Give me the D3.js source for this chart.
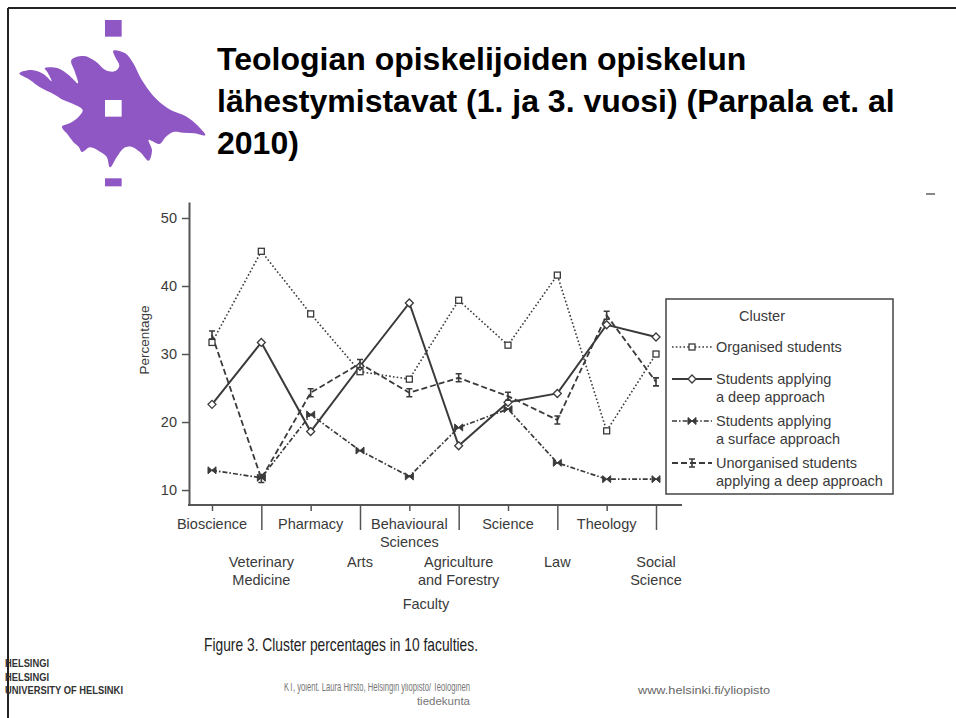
<!DOCTYPE html>
<html>
<head>
<meta charset="utf-8">
<script src="https://cdn.jsdelivr.net/npm/d3@7"></script>
<style>
  body { margin: 0; background: #fff; }
  svg { display: block; }
  text { font-family: "Liberation Sans", Arial, sans-serif; }
</style>
</head>
<body>
<svg id="chart" width="956" height="718"></svg>
<script>
// faculties in plotting order, and how their labels wrap
var faculties = ["Bioscience", "Veterinary Medicine", "Pharmacy", "Arts", "Behavioural Sciences",
                 "Agriculture and Forestry", "Science", "Law", "Theology", "Social Science"];
var facultyLabels = [["Bioscience"], ["Veterinary", "Medicine"], ["Pharmacy"], ["Arts"], ["Behavioural", "Sciences"],
                     ["Agriculture", "and Forestry"], ["Science"], ["Law"], ["Theology"], ["Social", "Science"]];

// cluster percentages
var organised   = [31.7, 45.1, 35.9, 27.4, 26.3, 37.9, 31.3, 41.6, 18.7, 30.0];
var deep        = [22.6, 31.7, 18.6, 28.2, 37.5, 16.5, 22.9, 24.2, 34.3, 32.5];
var surface     = [12.9, 11.8, 21.1, 15.8, 12.0, 19.2, 21.9, 14.0, 11.6, 11.6];
var unorganised = [32.8, 11.7, 24.3, 28.6, 24.3, 26.5, 23.8, 20.3, 35.7, 25.9];

var yTicks = [10, 20, 30, 40, 50];
var titleLines = ["Teologian opiskelijoiden opiskelun", "lähestymistavat (1. ja 3. vuosi) (Parpala et. al", "2010)"];

var svg = d3.select("#chart");
var ink = "#3a3a3a";

// ---- slide frame + logo
svg.append("line").attr("x1", 8).attr("y1", 8).attr("x2", 956).attr("y2", 8)
    .attr("stroke", "#222").attr("stroke-width", 2);
svg.append("line").attr("x1", 8).attr("y1", 8).attr("x2", 8).attr("y2", 718)
    .attr("stroke", "#222").attr("stroke-width", 2);

var purple = "#8f57c4";
var flame = [[58,220],[95,210],[130,222],[155,244],[142,216],[134,205],[172,204],[205,224],[234,250],
             [224,214],[214,180],[252,168],[286,184],[316,210],[344,214],[358,198],[346,172],[340,152],
             [376,160],[400,190],[420,230],[446,270],[472,300],[512,330],[560,350],[592,376],[616,406],
             [584,400],[550,398],[520,396],[498,410],[478,432],[446,420],[456,450],[446,482],[420,456],
             [394,440],[372,444],[350,472],[330,502],[320,470],[300,455],[270,442],[246,456],[236,440],
             [222,428],[202,402],[186,380],[212,368],[236,350],[248,330],[220,312],[190,300],[160,282],
             [120,262],[90,240]];
var logo = svg.append("g").attr("transform", "scale(0.3333)");
logo.append("path")
    .attr("d", d3.line().curve(d3.curveCatmullRomClosed.alpha(0.5))(flame))
    .attr("fill", purple);
logo.append("rect").attr("x", 315).attr("y", 60).attr("width", 50).attr("height", 50).attr("fill", purple);
logo.append("rect").attr("x", 315).attr("y", 300).attr("width", 50).attr("height", 50).attr("fill", "#fff");
logo.append("rect").attr("x", 315).attr("y", 535).attr("width", 50).attr("height", 24).attr("fill", purple);

// ---- title
svg.append("g").selectAll("text").data(titleLines).enter().append("text")
    .attr("x", 217).attr("y", (d, i) => 70 + i * 42)
    .attr("font-size", 32).attr("font-weight", "bold").attr("fill", "#000")
    .text(d => d);

svg.append("line").attr("x1", 926).attr("x2", 935).attr("y1", 194).attr("y2", 194)
    .attr("stroke", "#888").attr("stroke-width", 2);

// ---- scales
var x = d3.scalePoint().domain(faculties).range([212, 656]);
var y = d3.scaleLinear().domain([7.8, 52.35]).range([505, 202]);
var fs = 14.5;

// y axis
var yAxis = svg.append("g").attr("transform", "translate(189,0)")
    .call(d3.axisLeft(y).tickValues(yTicks).tickSize(7).tickPadding(5).tickSizeOuter(0));
yAxis.select(".domain").attr("stroke", "#555").attr("stroke-width", 2);
yAxis.selectAll(".tick line").attr("stroke", "#555").attr("stroke-width", 1.5);
yAxis.selectAll(".tick text").attr("font-size", fs).attr("fill", ink)
    .attr("font-family", "Liberation Sans, Arial, sans-serif");

svg.append("text").attr("transform", "translate(149,340) rotate(-90)")
    .attr("text-anchor", "middle").attr("font-size", 13.5).attr("fill", ink).text("Percentage");

// x axis
svg.append("line").attr("x1", 188).attr("x2", 682).attr("y1", 505).attr("y2", 505)
    .attr("stroke", "#555").attr("stroke-width", 2);
var xAxis = svg.append("g").attr("transform", "translate(0,505)")
    .call(d3.axisBottom(x).tickSize(6).tickFormat(""));
xAxis.select(".domain").remove();
xAxis.selectAll(".tick line").attr("stroke", "#555").attr("stroke-width", 1.5)
    .attr("y2", (d, i) => i % 2 ? 25 : 6);

var labels = svg.append("g").selectAll("text").data(faculties).enter().append("text")
    .attr("text-anchor", "middle").attr("font-size", fs).attr("fill", ink)
    .attr("transform", (d, i) => "translate(" + x(d) + "," + (i % 2 ? 567 : 529) + ")");
labels.selectAll("tspan").data((d, i) => facultyLabels[i]).enter().append("tspan")
    .attr("x", 0).attr("dy", (d, j) => j ? 18 : 0).text(d => d);

svg.append("text").attr("x", 426).attr("y", 609).attr("text-anchor", "middle")
    .attr("font-size", fs).attr("fill", ink).text("Faculty");

// ---- series
var series = [
    {name: ["Organised students"], values: organised, dash: "1.6,2.2", width: 1.6, marker: "square"},
    {name: ["Students applying", "a deep approach"], values: deep, dash: null, width: 2, marker: "diamond"},
    {name: ["Students applying", "a surface approach"], values: surface, dash: "5,2,1.6,2", width: 1.7, marker: "bowtie"},
    {name: ["Unorganised students", "applying a deep approach"], values: unorganised, dash: "6,3", width: 1.8, marker: "ibeam"}
];

function drawMarker(g, type, cx, cy) {
    if (type == "square") {
        g.append("rect").attr("x", cx - 3).attr("y", cy - 3).attr("width", 6).attr("height", 6)
            .attr("fill", "#fff").attr("stroke", ink).attr("stroke-width", 1.3);
    } else if (type == "diamond") {
        g.append("path").attr("d", "M0,-4L4,0L0,4L-4,0Z")
            .attr("transform", "translate(" + cx + "," + cy + ")")
            .attr("fill", "#fff").attr("stroke", ink).attr("stroke-width", 1.3);
    } else if (type == "bowtie") {
        g.append("path").attr("d", "M-4,-3.5L4,3.5L4,-3.5L-4,3.5Z")
            .attr("transform", "translate(" + cx + "," + cy + ")")
            .attr("fill", ink).attr("stroke", ink).attr("stroke-width", 1);
    } else {
        g.append("path").attr("d", "M-3,-4H3M0,-4V4M-3,4H3")
            .attr("transform", "translate(" + cx + "," + cy + ")")
            .attr("fill", "none").attr("stroke", ink).attr("stroke-width", 1.6);
    }
}

var line = d3.line().x((d, i) => x(faculties[i])).y(d => y(d));
series.forEach(function (s) {
    svg.append("path").datum(s.values).attr("d", line)
        .attr("fill", "none").attr("stroke", ink).attr("stroke-width", s.width)
        .attr("stroke-dasharray", s.dash);
});
series.forEach(function (s) {
    var g = svg.append("g");
    s.values.forEach(function (v, i) { drawMarker(g, s.marker, x(faculties[i]), y(v)); });
});

// ---- legend
var lg = svg.append("g");
lg.append("rect").attr("x", 666).attr("y", 299).attr("width", 227).attr("height", 195)
    .attr("fill", "#fff").attr("stroke", "#444").attr("stroke-width", 1.5);
lg.append("text").attr("x", 762).attr("y", 321).attr("text-anchor", "middle")
    .attr("font-size", fs).attr("fill", ink).text("Cluster");
var rowY = [347, 379, 421, 463];
series.forEach(function (s, k) {
    var cy = rowY[k];
    lg.append("line").attr("x1", 672).attr("x2", 712).attr("y1", cy).attr("y2", cy)
        .attr("stroke", ink).attr("stroke-width", s.width).attr("stroke-dasharray", s.dash);
    drawMarker(lg, s.marker, 692, cy);
    lg.append("text").attr("x", 716).attr("y", cy + 5).attr("font-size", fs).attr("fill", ink)
        .selectAll("tspan").data(s.name).enter().append("tspan")
        .attr("x", 716).attr("dy", (d, j) => j ? 18 : 0).text(d => d);
});

// ---- figure caption + slide footer
svg.append("text").attr("x", 204).attr("y", 651).attr("font-family", "Lato, sans-serif")
    .attr("font-size", 18.5).attr("fill", "#222")
    .attr("textLength", 274).attr("lengthAdjust", "spacingAndGlyphs")
    .text("Figure 3. Cluster percentages in 10 faculties.");

var footerLeft = ["HELSINGI", "HELSINGI", "UNIVERSITY OF HELSINKI"];
svg.append("g").selectAll("text").data(footerLeft).enter().append("text")
    .attr("x", 5).attr("y", (d, i) => 667 + i * 13.5)
    .attr("font-family", "DejaVu Sans Condensed, DejaVu Sans, sans-serif")
    .attr("font-weight", "bold").attr("font-size", 11.5).attr("fill", "#333")
    .attr("textLength", (d, i) => i == 2 ? 118 : 44).attr("lengthAdjust", "spacingAndGlyphs")
    .text(d => d);

svg.append("clipPath").attr("id", "cut").append("rect")
    .attr("x", 270).attr("y", 683).attr("width", 220).attr("height", 30);
svg.append("text").attr("x", 470).attr("y", 691).attr("text-anchor", "end")
    .attr("clip-path", "url(#cut)").attr("font-size", 13).attr("fill", "#777")
    .attr("textLength", 186).attr("lengthAdjust", "spacingAndGlyphs")
    .text("KT, yoient. Laura Hirsto, Helsingin yliopisto/ Teologinen");
svg.append("text").attr("x", 470).attr("y", 705).attr("text-anchor", "end")
    .attr("font-size", 11.5).attr("fill", "#777").text("tiedekunta");
svg.append("text").attr("x", 638).attr("y", 694)
    .attr("font-size", 11.5).attr("fill", "#666")
    .attr("textLength", 132).attr("lengthAdjust", "spacingAndGlyphs")
    .text("www.helsinki.fi/yliopisto");
</script>
</body>
</html>
